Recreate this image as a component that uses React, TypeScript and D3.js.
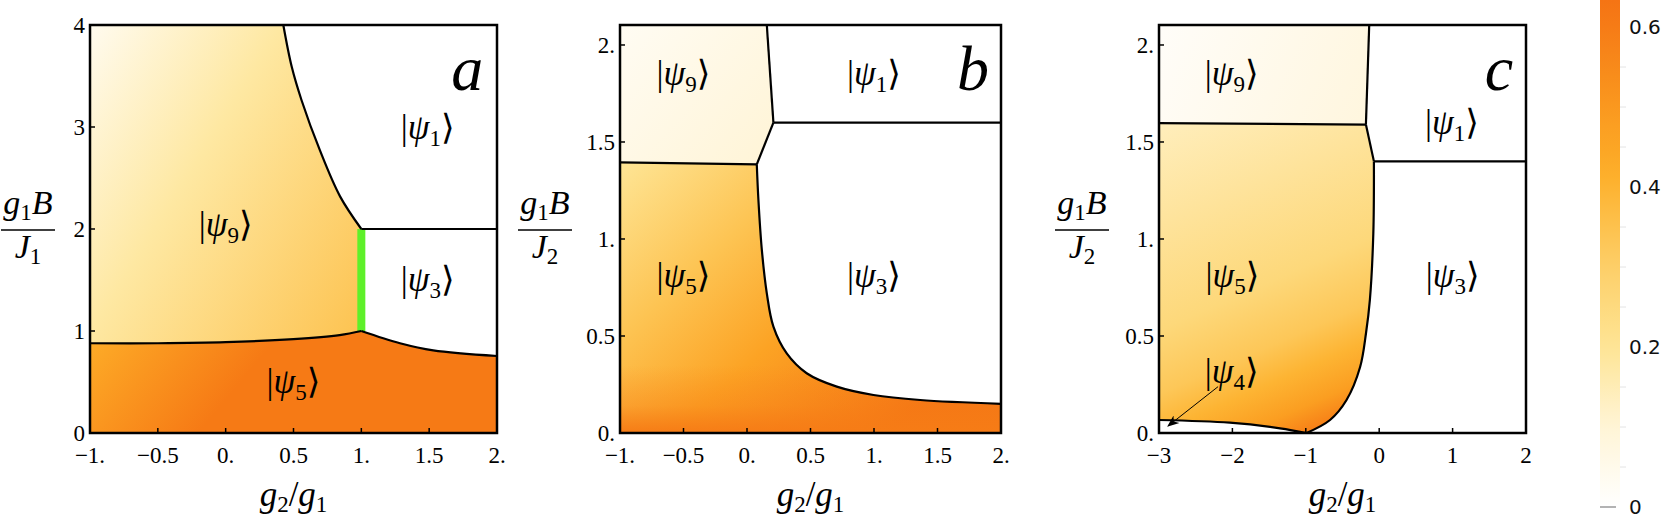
import React from 'react'
import * as d3 from 'd3'

type Pt = [number, number]
type Seg = { pts: Pt[]; smooth: boolean }

// colour scale
const colorStops = [0, 0.1, 0.2, 0.3, 0.42, 0.5, 0.6, 0.634]
const colorHex = ['#ffffff', '#fff4d6', '#fee595', '#fdcf68', '#fdae28', '#fa981f', '#f67c16', '#f57414']
const legendTicks = [0, 0.2, 0.4, 0.6]
const legendTickLabels = ['0', '0.2', '0.4', '0.6']
const legendMinor = [0.05, 0.1, 0.15, 0.25, 0.3, 0.35, 0.45, 0.5, 0.55]

// ---- panel a ----
const aXTicks = [-1, -0.5, 0, 0.5, 1, 1.5, 2]
const aXLabels = ['−1.', '−0.5', '0.', '0.5', '1.', '1.5', '2.']
const aYTicks = [0, 1, 2, 3, 4]
const aYLabels = ['0', '1', '2', '3', '4']
const a91: Pt[] = [[0.425, 4], [0.487, 3.59], [0.56, 3.26], [0.695, 2.77], [0.843, 2.32], [1, 2]]
const a13: Pt[] = [[1, 2], [2, 2]]
const a95: Pt[] = [[-1, 0.88], [-0.5, 0.88], [0, 0.89], [0.5, 0.92], [0.84, 0.96], [1, 1]]
const a53: Pt[] = [[1, 1], [1.285, 0.88], [1.53, 0.81], [2, 0.755]]
const aGreen: Pt[] = [[1, 1], [1, 2]]
const aPsi9Ends: Pt[] = [[-1, 4], [1.42, 2.0]]
const aPsi9Offsets = [0, 0.42, 1]
const aPsi9Values = [0.04, 0.18, 0.34]
const aPsi5Ends: Pt[] = [[-1, 0.88], [-0.2, 0]]
const aPsi5Offsets = [0, 1]
const aPsi5Values = [0.43, 0.61]

// ---- panel b ----
const bXTicks = [-1, -0.5, 0, 0.5, 1, 1.5, 2]
const bXLabels = ['−1.', '−0.5', '0.', '0.5', '1.', '1.5', '2.']
const bYTicks = [0, 0.5, 1, 1.5, 2]
const bYLabels = ['0.', '0.5', '1.', '1.5', '2.']
const b91: Pt[] = [[0.156, 2.103], [0.208, 1.6]]
const b13: Pt[] = [[0.208, 1.6], [2, 1.6]]
const b93: Pt[] = [[0.208, 1.6], [0.077, 1.385]]
const b95: Pt[] = [[-1, 1.395], [0.077, 1.385]]
const b53: Pt[] = [[0.077, 1.385], [0.09, 1.2], [0.117, 0.943], [0.156, 0.72], [0.208, 0.548], [0.313, 0.41],
  [0.47, 0.308], [0.707, 0.239], [0.996, 0.196], [1.364, 0.17], [2, 0.15]]
const bPsi9Ends: Pt[] = [[-1, 2.1], [0.2, 1.39]]
const bPsi9Offsets = [0, 1]
const bPsi9Values = [0.03, 0.1]
const bPsi5Ends: Pt[] = [[-1, 1.39], [1.01, -0.057]]
const bPsi5Offsets = [0, 0.34, 0.62, 1]
const bPsi5Values = [0.2, 0.34, 0.46, 0.62]
const bOverlayEnds: Pt[] = [[0, 0.35], [0, 0]]
const bOverlayOffsets = [0, 0.6, 1]
const bOverlayOpacity = [0, 0.35, 1]
const bOverlayValue = 0.6

// ---- panel c ----
const cXTicks = [-3, -2, -1, 0, 1, 2]
const cXLabels = ['−3', '−2', '−1', '0', '1', '2']
const cYTicks = [0, 0.5, 1, 1.5, 2]
const cYLabels = ['0.', '0.5', '1.', '1.5', '2.']
const c91: Pt[] = [[-0.136, 2.103], [-0.181, 1.59]]
const c95: Pt[] = [[-3, 1.597], [-0.181, 1.59]]
const c51: Pt[] = [[-0.181, 1.59], [-0.072, 1.4]]
const c13: Pt[] = [[-0.072, 1.4], [2, 1.4]]
const c53: Pt[] = [[-0.072, 1.4], [-0.08, 1.03], [-0.127, 0.686], [-0.18, 0.514], [-0.26, 0.34],
  [-0.445, 0.17], [-0.67, 0.067], [-0.99, 0]]
const c54: Pt[] = [[-3, 0.067], [-2.036, 0.053], [-1.35, 0.024], [-0.99, 0]]
const cArrow: Pt[] = [[-2.195, 0.239], [-2.877, 0.036]]
const cPsi9Ends: Pt[] = [[-3, 2.1], [-0.2, 1.6]]
const cPsi9Offsets = [0, 1]
const cPsi9Values = [0.015, 0.08]
const cPsi5Ends: Pt[] = [[-3, 1.6], [-1.12, -0.036]]
const cPsi5Offsets = [0, 0.55, 0.72, 0.82, 0.92, 1]
const cPsi5Values = [0.14, 0.26, 0.33, 0.4, 0.48, 0.6]

const SERIF = '"Liberation Serif", "DejaVu Serif", serif'
const SANS = '"DejaVu Sans", sans-serif'
const TOP = 25
const BOTTOM = 433

const cmap = d3.scaleLinear<string>().domain(colorStops).range(colorHex).interpolate(d3.interpolateRgb).clamp(true)

function regionPath(segs: Seg[], xs: any, ys: any) {
  return segs.map((s, i) => {
    const gen = d3.line<Pt>().x(d => xs(d[0])).y(d => ys(d[1]))
      .curve(s.smooth ? d3.curveCatmullRom.alpha(0.5) : d3.curveLinear)
    const p = gen(s.pts) || ''
    return i === 0 ? p : 'L' + p.slice(1)
  }).join('') + 'Z'
}

function Ket({ x, y, n }: { x: number; y: number; n: string }) {
  return (
    <text x={x} y={y} dy="0.32em" textAnchor="middle" fontFamily={SERIF} fontSize={35}>
      <tspan>|</tspan>
      <tspan fontStyle="italic">ψ</tspan>
      <tspan fontSize={23} dy={7}>{n}</tspan>
      <tspan dy={-7}>⟩</tspan>
    </text>
  )
}

type Grad = { id: string; ends: Pt[]; offsets: number[]; values?: number[]; opacity?: number[]; value?: number }
type Region = { segs: Seg[]; grads: string[] }
type Label = { at: Pt; n: string }

function Panel(props: {
  id: string; x0: number; x1: number; xDomain: [number, number]; yMax: number
  xTicks: number[]; xLabels: string[]; yTicks: number[]; yLabels: string[]
  grads: Grad[]; regions: Region[]; lines: Pt[][]; smoothLines: Pt[][]
  labels: Label[]; letter: string; letterAt: Pt; yLabelX: number; sub: string
  green?: Pt[]; arrow?: Pt[]
}) {
  const xs = d3.scaleLinear().domain(props.xDomain).range([props.x0, props.x1])
  const ys = d3.scaleLinear().domain([0, props.yMax]).range([BOTTOM, TOP])
  const lin = d3.line<Pt>().x(d => xs(d[0])).y(d => ys(d[1]))
  const smooth = d3.line<Pt>().x(d => xs(d[0])).y(d => ys(d[1])).curve(d3.curveCatmullRom.alpha(0.5))
  const cx = (props.x0 + props.x1) / 2
  return (
    <g>
      <defs>
        {props.grads.map(g => (
          <linearGradient key={g.id} id={props.id + g.id} gradientUnits="userSpaceOnUse"
            x1={xs(g.ends[0][0])} y1={ys(g.ends[0][1])} x2={xs(g.ends[1][0])} y2={ys(g.ends[1][1])}>
            {g.offsets.map((o, i) => (
              <stop key={i} offset={o}
                stopColor={cmap(g.values ? g.values[i] : (g.value as number))}
                stopOpacity={g.opacity ? g.opacity[i] : 1} />
            ))}
          </linearGradient>
        ))}
        <marker id={props.id + 'arr'} viewBox="0 0 10 10" refX={9} refY={5} markerWidth={12} markerHeight={12}
          markerUnits="userSpaceOnUse" orient="auto">
          <path d="M0,1 L10,5 L0,9 L3,5 Z" fill="#000" />
        </marker>
      </defs>
      <rect x={props.x0} y={TOP} width={props.x1 - props.x0} height={BOTTOM - TOP} fill="#fff" />
      {props.regions.map((r, i) =>
        r.grads.map(gid => (
          <path key={i + gid} d={regionPath(r.segs, xs, ys)} fill={`url(#${props.id + gid})`} />
        ))
      )}
      {props.green && (
        <path d={lin(props.green) || ''} stroke="#5ef02a" strokeWidth={8} fill="none" />
      )}
      {props.lines.map((l, i) => (
        <path key={'l' + i} d={lin(l) || ''} stroke="#000" strokeWidth={2.2} fill="none" strokeLinejoin="round" />
      ))}
      {props.smoothLines.map((l, i) => (
        <path key={'s' + i} d={smooth(l) || ''} stroke="#000" strokeWidth={2.2} fill="none" strokeLinejoin="round" />
      ))}
      {props.arrow && (
        <path d={lin(props.arrow) || ''} stroke="#000" strokeWidth={1} fill="none" markerEnd={`url(#${props.id}arr)`} />
      )}
      <rect x={props.x0} y={TOP} width={props.x1 - props.x0} height={BOTTOM - TOP} fill="none" stroke="#000" strokeWidth={2.5} />
      {props.xTicks.map((t, i) => (
        <g key={'xt' + i}>
          <line x1={xs(t)} x2={xs(t)} y1={BOTTOM} y2={BOTTOM - 5} stroke="#000" strokeWidth={1.5} />
          <text x={xs(t)} y={463} textAnchor="middle" fontFamily={SERIF} fontSize={23}>{props.xLabels[i]}</text>
        </g>
      ))}
      {props.yTicks.map((t, i) => (
        <g key={'yt' + i}>
          <line x1={props.x0} x2={props.x0 + 5} y1={ys(t)} y2={ys(t)} stroke="#000" strokeWidth={1.5} />
          <text x={props.x0 - 5} y={ys(t)} dy="0.33em" textAnchor="end" fontFamily={SERIF} fontSize={23}>{props.yLabels[i]}</text>
        </g>
      ))}
      {props.labels.map((l, i) => (
        <Ket key={'k' + i} x={xs(l.at[0])} y={ys(l.at[1])} n={l.n} />
      ))}
      <text x={xs(props.letterAt[0])} y={ys(props.letterAt[1])} textAnchor="middle" fontFamily={SERIF}
        fontStyle="italic" fontSize={64}>{props.letter}</text>
      <text x={cx} y={506} textAnchor="middle" fontFamily={SERIF} fontSize={35}>
        <tspan fontStyle="italic">g</tspan><tspan fontSize={23} dy={6}>2</tspan>
        <tspan dy={-6}>/</tspan><tspan fontStyle="italic">g</tspan><tspan fontSize={23} dy={6}>1</tspan>
      </text>
      <text x={props.yLabelX} y={214} textAnchor="middle" fontFamily={SERIF} fontSize={34}>
        <tspan fontStyle="italic">g</tspan><tspan fontSize={23} dy={6}>1</tspan>
        <tspan dy={-6} fontStyle="italic">B</tspan>
      </text>
      <line x1={props.yLabelX - 27} x2={props.yLabelX + 27} y1={230} y2={230} stroke="#000" strokeWidth={1.3} />
      <text x={props.yLabelX} y={258} textAnchor="middle" fontFamily={SERIF} fontSize={34}>
        <tspan fontStyle="italic">J</tspan><tspan fontSize={23} dy={6}>{props.sub}</tspan>
      </text>
    </g>
  )
}

function Legend() {
  const ys = d3.scaleLinear().domain([0, 0.6]).range([507, 27])
  const x0 = 1600
  const w = 20
  const stops = d3.range(0, 21).map(i => (i / 20) * 0.634)
  return (
    <g>
      <defs>
        <linearGradient id="legendGrad" gradientUnits="userSpaceOnUse" x1={0} y1={ys(0)} x2={0} y2={ys(0.634)}>
          {stops.map((v, i) => <stop key={i} offset={i / 20} stopColor={cmap(v)} />)}
        </linearGradient>
      </defs>
      <rect x={x0} y={ys(0.634)} width={w} height={ys(0) - ys(0.634)} fill="url(#legendGrad)" />
      {legendMinor.map((v, i) => (
        <line key={'m' + i} x1={x0 + w} x2={x0 + w + 6} y1={ys(v)} y2={ys(v)} stroke="#e4e4e4" strokeWidth={1} />
      ))}
      <line x1={x0} x2={x0 + 16} y1={ys(0)} y2={ys(0)} stroke="#9a9a9a" strokeWidth={1.5} />
      {legendTicks.map((v, i) => (
        <text key={'t' + i} x={1629} y={ys(v)} dy="0.36em" fontFamily={SANS} fontSize={20} fill="#111">{legendTickLabels[i]}</text>
      ))}
    </g>
  )
}

export default function App() {
  const aGrads: Grad[] = [
    { id: 'g9', ends: aPsi9Ends, offsets: aPsi9Offsets, values: aPsi9Values },
    { id: 'g5', ends: aPsi5Ends, offsets: aPsi5Offsets, values: aPsi5Values },
  ]
  const aRegions: Region[] = [
    { segs: [{ pts: [[-1, 4], a91[0]], smooth: false }, { pts: a91, smooth: true }, { pts: aGreen.slice().reverse() as Pt[], smooth: false },
      { pts: a95.slice().reverse() as Pt[], smooth: true }], grads: ['g9'] },
    { segs: [{ pts: a95, smooth: true }, { pts: a53, smooth: true }, { pts: [[2, 0.755], [2, 0], [-1, 0]], smooth: false }], grads: ['g5'] },
  ]
  const bGrads: Grad[] = [
    { id: 'g9', ends: bPsi9Ends, offsets: bPsi9Offsets, values: bPsi9Values },
    { id: 'g5', ends: bPsi5Ends, offsets: bPsi5Offsets, values: bPsi5Values },
    { id: 'ov', ends: bOverlayEnds, offsets: bOverlayOffsets, opacity: bOverlayOpacity, value: bOverlayValue },
  ]
  const bRegions: Region[] = [
    { segs: [{ pts: [[-1, 2.103], b91[0], b91[1], b93[1], b95[0]], smooth: false }], grads: ['g9'] },
    { segs: [{ pts: b95, smooth: false }, { pts: b53, smooth: true }, { pts: [[2, 0.15], [2, 0], [-1, 0]], smooth: false }], grads: ['g5', 'ov'] },
  ]
  const cGrads: Grad[] = [
    { id: 'g9', ends: cPsi9Ends, offsets: cPsi9Offsets, values: cPsi9Values },
    { id: 'g5', ends: cPsi5Ends, offsets: cPsi5Offsets, values: cPsi5Values },
  ]
  const cRegions: Region[] = [
    { segs: [{ pts: [[-3, 2.103], c91[0], c91[1], c95[0]], smooth: false }], grads: ['g9'] },
    { segs: [{ pts: [c95[0], c95[1], c51[1]], smooth: false }, { pts: c53, smooth: true },
      { pts: c54.slice().reverse() as Pt[], smooth: true }], grads: ['g5'] },
  ]
  return (
    <svg width={1661} height={521} style={{ position: 'absolute', left: 0, top: 0, background: '#fff' }}>
      <Panel id="pa" x0={90} x1={497} xDomain={[-1, 2]} yMax={4}
        xTicks={aXTicks} xLabels={aXLabels} yTicks={aYTicks} yLabels={aYLabels}
        grads={aGrads} regions={aRegions} lines={[a13]} smoothLines={[a91, a95, a53]}
        green={aGreen}
        labels={[{ at: [1.49, 2.99], n: '1' }, { at: [0.0, 2.04], n: '9' }, { at: [1.49, 1.5], n: '3' }, { at: [0.5, 0.5], n: '5' }]}
        letter="a" letterAt={[1.78, 3.36]} yLabelX={28} sub="1" />
      <Panel id="pb" x0={620} x1={1001} xDomain={[-1, 2]} yMax={2.103}
        xTicks={bXTicks} xLabels={bXLabels} yTicks={bYTicks} yLabels={bYLabels}
        grads={bGrads} regions={bRegions} lines={[b91, b13, b93, b95]} smoothLines={[b53]}
        labels={[{ at: [-0.5, 1.85], n: '9' }, { at: [1.0, 1.85], n: '1' }, { at: [-0.5, 0.81], n: '5' }, { at: [1.0, 0.81], n: '3' }]}
        letter="b" letterAt={[1.78, 1.77]} yLabelX={545} sub="2" />
      <Panel id="pc" x0={1159} x1={1526} xDomain={[-3, 2]} yMax={2.103}
        xTicks={cXTicks} xLabels={cXLabels} yTicks={cYTicks} yLabels={cYLabels}
        grads={cGrads} regions={cRegions} lines={[c91, c95, c51, c13]} smoothLines={[c53, c54]}
        arrow={cArrow}
        labels={[{ at: [-2.01, 1.85], n: '9' }, { at: [0.99, 1.6], n: '1' }, { at: [1.0, 0.81], n: '3' },
          { at: [-2.0, 0.81], n: '5' }, { at: [-2.01, 0.316], n: '4' }]}
        letter="c" letterAt={[1.63, 1.77]} yLabelX={1082} sub="2" />
      <Legend />
    </svg>
  )
}
